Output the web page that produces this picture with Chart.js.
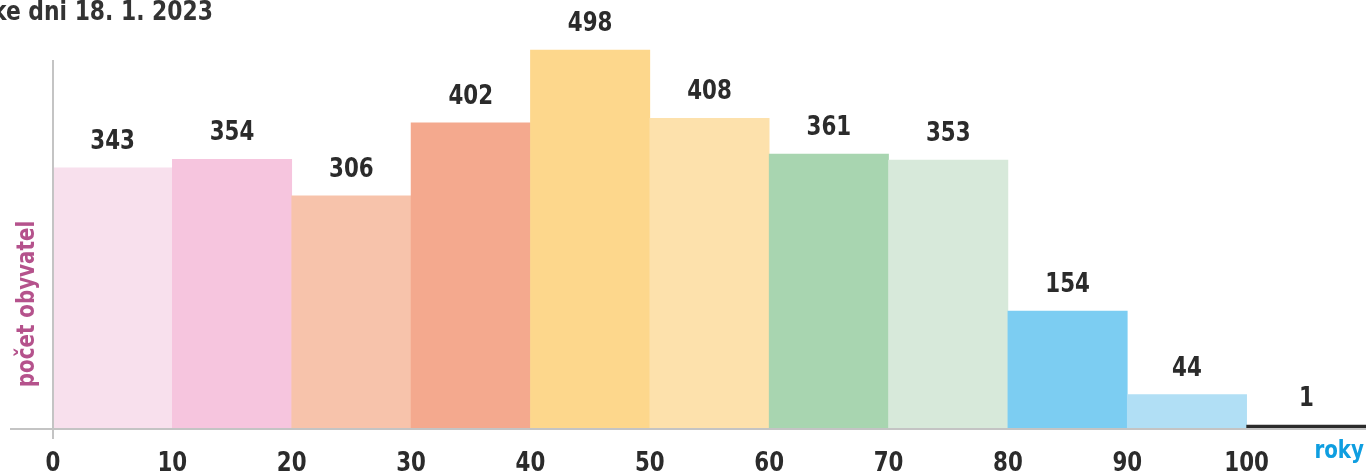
<!DOCTYPE html>
<html>
<head>
<meta charset="utf-8">
<script src="https://cdn.jsdelivr.net/npm/chart.js"></script>
<style>
  html, body { margin: 0; padding: 0; background: #fff; overflow: hidden; }
  #wrap { width: 1366px; height: 473px; position: relative; }
</style>
</head>
<body>
<div id="wrap"><canvas id="ages" width="1366" height="473"></canvas></div>
<script>
// age groups (start of decade) and population counts
const ageStarts = [0, 10, 20, 30, 40, 50, 60, 70, 80, 90, 100];
const population = [343, 354, 306, 402, 498, 408, 361, 353, 154, 44, 1];
const barColors = ['#f8e0ed', '#f6c5de', '#f7c3ab', '#f4a98e', '#fdd78c', '#fde1ac',
                   '#a8d5b0', '#d7e9da', '#7ccdf2', '#b1dff5', '#2b2b2b'];
const xTicks = [0, 10, 20, 30, 40, 50, 60, 70, 80, 90, 100];

const FONT = "'DejaVu Sans Condensed', 'Liberation Sans', sans-serif";

// narrowed text, the original face is a condensed DIN-like font
function narrowText(ctx, txt, x, y, sx) {
  ctx.save();
  ctx.translate(x, y);
  ctx.scale(sx, 1);
  ctx.fillText(txt, 0, 0);
  ctx.restore();
}

const decor = {
  id: 'decor',
  afterDatasetsDraw(chart) {
    const { ctx, chartArea, scales } = chart;
    const x = scales.x, y = scales.y;
    const base = y.getPixelForValue(0);
    ctx.save();
    // axis lines
    ctx.strokeStyle = '#c4c4c4';
    ctx.lineWidth = 2;
    ctx.beginPath();
    ctx.moveTo(10, base + 1); ctx.lineTo(chartArea.right, base + 1);
    ctx.moveTo(x.getPixelForValue(0), 60); ctx.lineTo(x.getPixelForValue(0), base + 11);
    ctx.stroke();
    // x tick labels
    ctx.fillStyle = '#2b2b2b';
    ctx.font = 'bold 27px ' + FONT;
    ctx.textAlign = 'center';
    ctx.textBaseline = 'middle';
    xTicks.forEach(v => narrowText(ctx, String(v), x.getPixelForValue(v), base + 36, 0.88));
    // value labels
    chart.getDatasetMeta(0).data.forEach((bar, i) => {
      narrowText(ctx, String(population[i]), bar.x, bar.y - 26, 0.88);
    });
    // titles
    ctx.textAlign = 'left';
    ctx.textBaseline = 'alphabetic';
    ctx.fillStyle = '#333333';
    narrowText(ctx, 'ke dni 18. 1. 2023', -8, 20, 0.9);
    ctx.fillStyle = '#0f9ee0';
    ctx.textAlign = 'right';
    ctx.font = 'bold 24px ' + FONT;
    narrowText(ctx, 'roky', 1364, 458, 0.92);
    ctx.fillStyle = '#b5528c';
    ctx.translate(28, 304);
    ctx.rotate(-Math.PI / 2);
    ctx.textAlign = 'center';
    ctx.textBaseline = 'middle';
    narrowText(ctx, 'počet obyvatel', 0, 0, 0.92);
    ctx.restore();
  }
};

new Chart(document.getElementById('ages'), {
  type: 'bar',
  data: {
    datasets: [{
      data: ageStarts.map((a, i) => ({ x: a + 5, y: population[i] })),
      backgroundColor: barColors,
      borderWidth: 0,
      barPercentage: 1,
      categoryPercentage: 1,
      minBarLength: 3
    }]
  },
  options: {
    responsive: false,
    animation: false,
    layout: { padding: { left: 53, top: 0, right: 0, bottom: 45 } },
    plugins: { legend: { display: false }, tooltip: { enabled: false } },
    scales: {
      x: {
        type: 'linear',
        display: false,
        offset: false,
        min: 0,
        max: 110
      },
      y: {
        display: false,
        min: 0,
        max: 564
      }
    }
  },
  plugins: [decor]
});
</script>
</body>
</html>
